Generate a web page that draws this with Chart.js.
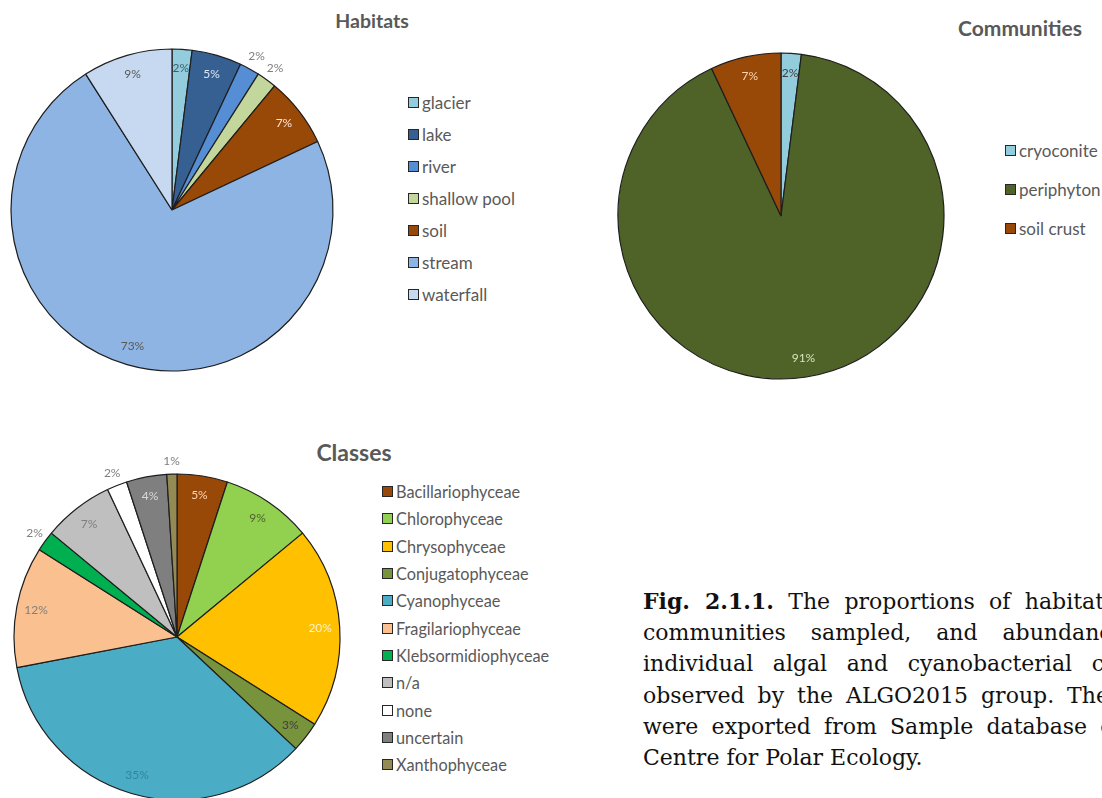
<!DOCTYPE html>
<html>
<head>
<meta charset="utf-8">
<script src="https://cdn.jsdelivr.net/npm/chart.js@4.4.0/dist/chart.umd.min.js"></script>
<style>
  body { margin: 0; width: 1102px; height: 798px; overflow: hidden; background: #fff; position: relative; font-family: Lato, "Open Sans", sans-serif; }
  canvas { position: absolute; }
  .title { position: absolute; font-weight: bold; color: #595959; transform: translate(-50%, -50%); white-space: nowrap; }
  .legend { position: absolute; color: #595959; }
  .legend .item { display: flex; align-items: center; white-space: nowrap; }
  .legend .key { width: 9px; height: 9px; border: 1px solid #262626; margin-right: 3px; flex: none; }
  .caption { position: absolute; left: 643px; top: 586px; width: 528px; font-family: "DejaVu Serif", serif; font-size: 22px; line-height: 31.2px; color: #111; }
  .caption div { text-align: justify; text-align-last: justify; white-space: nowrap; }
  .caption div.last { text-align-last: left; }
</style>
</head>
<body>

<div class="title" style="left:372px; top:20px; font-size:19.5px;">Habitats</div>
<div class="title" style="left:1020px; top:27px; font-size:21px;">Communities</div>
<div class="title" style="left:354px; top:452px; font-size:23px;">Classes</div>

<canvas id="habitats" width="344" height="380" style="left:0; top:20px;"></canvas>
<canvas id="communities" width="340" height="340" style="left:611px; top:46px;"></canvas>
<canvas id="classes" width="354" height="374" style="left:0; top:450px;"></canvas>

<div class="legend" id="habitatsLegend" style="left:408px; top:86px; font-size:17px;"></div>
<div class="legend" id="communitiesLegend" style="left:1005px; top:131px; font-size:17px;"></div>
<div class="legend" id="classesLegend" style="left:382px; top:478px; font-size:16.3px;"></div>

<div class="caption">
  <div><b>Fig. 2.1.1.</b> The proportions of habitats and</div>
  <div>communities sampled, and abundance of</div>
  <div>individual algal and cyanobacterial classes</div>
  <div>observed by the ALGO2015 group. The data</div>
  <div>were exported from Sample database of the</div>
  <div class="last">Centre for Polar Ecology.</div>
</div>

<script>
// values (percent of samples)
const habitatLabels = ['glacier', 'lake', 'river', 'shallow pool', 'soil', 'stream', 'waterfall'];
const habitatValues = [2, 5, 2, 2, 7, 73, 9];

const communityLabels = ['cryoconite', 'periphyton', 'soil crust'];
const communityValues = [2, 91, 7];

const classLabels = ['Bacillariophyceae', 'Chlorophyceae', 'Chrysophyceae', 'Conjugatophyceae', 'Cyanophyceae',
  'Fragilariophyceae', 'Klebsormidiophyceae', 'n/a', 'none', 'uncertain', 'Xanthophyceae'];
const classValues = [5, 9, 20, 3, 35, 12, 2, 7, 2, 4, 1];

const habitatColors = ['#93CDDD', '#376092', '#558ED5', '#C3D69B', '#984807', '#8EB4E3', '#C6D9F1'];
const communityColors = ['#93CDDD', '#4F6228', '#984807'];
const classColors = ['#984807', '#92D050', '#FFC000', '#77933C', '#4BACC6', '#FAC090',
  '#00B050', '#BFBFBF', '#FFFFFF', '#7F7F7F', '#948A54'];

// percent labels, Excel "best fit" style: inside near the rim, small ones just outside
const pctLabels = {
  id: 'pctLabels',
  afterDatasetsDraw(chart, args, opts) {
    const ctx = chart.ctx;
    const meta = chart.getDatasetMeta(0);
    const data = chart.data.datasets[0].data;
    const total = data.reduce((a, b) => a + b, 0);
    ctx.save();
    ctx.font = opts.font;
    ctx.textAlign = 'center';
    ctx.textBaseline = 'middle';
    meta.data.forEach((arc, i) => {
      const { x, y, startAngle, endAngle, outerRadius } = arc.getProps(['x', 'y', 'startAngle', 'endAngle', 'outerRadius'], true);
      const mid = (startAngle + endAngle) / 2;
      const r = outerRadius * (opts.outside.includes(i) ? opts.outR : opts.inR);
      ctx.fillStyle = opts.colors[i];
      ctx.fillText(Math.round(data[i] / total * 100) + '%', x + Math.cos(mid) * r, y + Math.sin(mid) * r);
    });
    ctx.restore();
  }
};

function makePie(id, labels, values, colors, radius, labelOpts) {
  return new Chart(document.getElementById(id), {
    type: 'pie',
    data: {
      labels: labels,
      datasets: [{
        data: values,
        backgroundColor: colors,
        borderColor: '#1e1e1e',
        borderWidth: 1.2,
        hoverOffset: 0,
      }]
    },
    options: {
      responsive: false,
      animation: false,
      radius: radius,
      layout: { padding: 0 },
      events: [],
      plugins: {
        legend: { display: false },
        tooltip: { enabled: false },
        pctLabels: { font: '12px Lato, "Open Sans", sans-serif', inR: 0.88, outR: 1.09, ...labelOpts }
      }
    },
    plugins: [pctLabels]
  });
}

function buildLegend(elId, labels, colors, rowHeight) {
  const el = document.getElementById(elId);
  labels.forEach((lab, i) => {
    const item = document.createElement('div');
    item.className = 'item';
    item.style.height = rowHeight + 'px';
    const key = document.createElement('span');
    key.className = 'key';
    key.style.background = colors[i];
    const txt = document.createElement('span');
    txt.textContent = lab;
    item.appendChild(key);
    item.appendChild(txt);
    el.appendChild(item);
  });
}

makePie('habitats', habitatLabels, habitatValues, habitatColors, 161, {
  outside: [2, 3],
  colors: ['#3b5f6b', '#dce6f2', '#7f7f7f', '#7f7f7f', '#fde9d9', '#595959', '#595959']
});
makePie('communities', communityLabels, communityValues, communityColors, 163, {
  outside: [],
  colors: ['#404040', '#d7e4bd', '#fcd5b4']
});
makePie('classes', classLabels, classValues, classColors, 163, {
  outside: [6, 8, 10],
  outR: 1.08,
  colors: ['#fcd5b4', '#4f6228', '#fff2cc', '#404040', '#31859c', '#7f7f7f',
    '#7f7f7f', '#7f7f7f', '#7f7f7f', '#d9d9d9', '#7f7f7f']
});

buildLegend('habitatsLegend', habitatLabels, habitatColors, 32);
buildLegend('communitiesLegend', communityLabels, communityColors, 39);
buildLegend('classesLegend', classLabels, classColors, 27.3);
</script>
</body>
</html>
